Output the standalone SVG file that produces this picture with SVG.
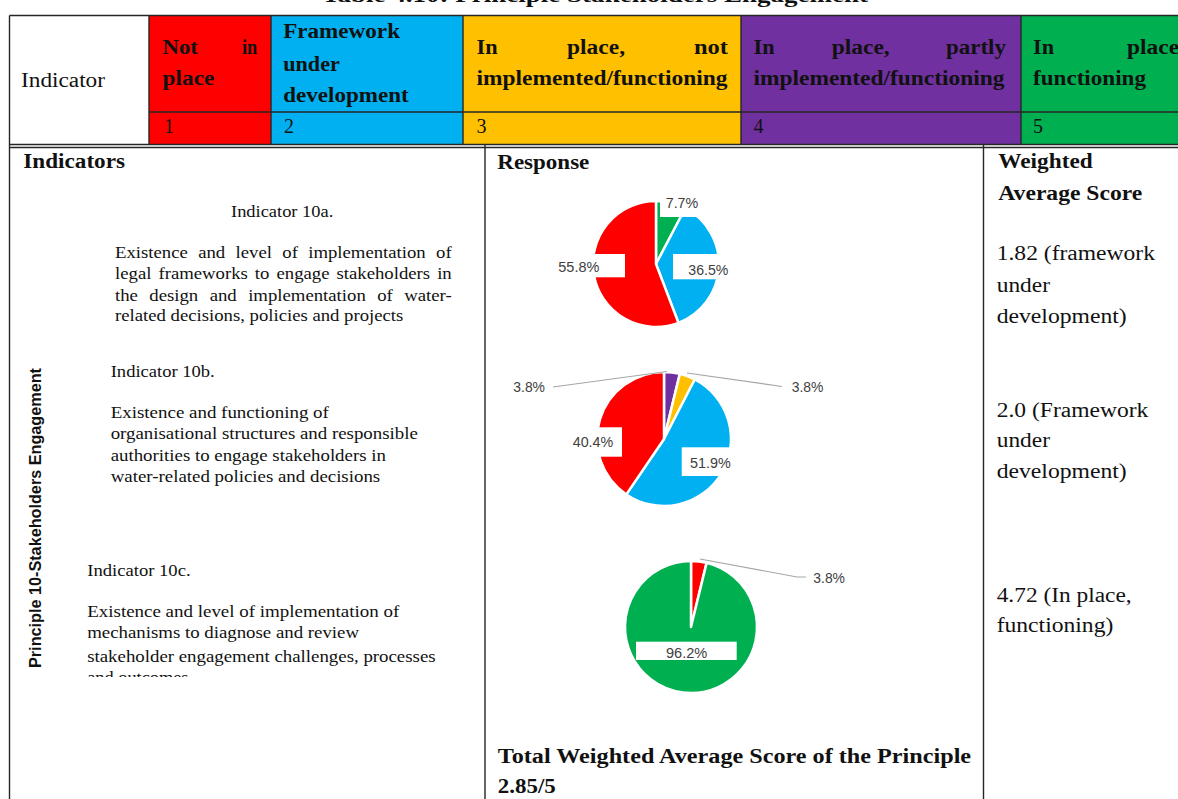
<svg xmlns="http://www.w3.org/2000/svg" width="1178" height="799" viewBox="0 0 1178 799">
<defs>
<style>
.b{font-family:"Liberation Serif","Times New Roman",serif;font-weight:bold;font-size:20px;fill:#111}
.r{font-family:"Liberation Serif","Times New Roman",serif;font-size:20px;fill:#111}
.s{font-family:"Liberation Serif","Times New Roman",serif;font-size:16px;fill:#111}
.v{font-family:"Liberation Sans",Arial,sans-serif;font-weight:bold;font-size:16px;fill:#111}
.l{font-family:"Liberation Sans",Arial,sans-serif;font-size:14px;fill:#404040}
.ln{stroke:#262626;stroke-width:1.4;fill:none}
.sl{stroke:#fff;stroke-width:2.5;stroke-linejoin:round}
.ld{stroke:#a6a6a6;stroke-width:1.2;fill:none}
.bx{fill:#fff}
</style>
<clipPath id="cutC"><rect x="0" y="560" width="480" height="117"/></clipPath>
</defs>
<rect width="1178" height="799" fill="#fff"/>

<g id="title">
<text class="b" x="322" y="1.5" textLength="546" lengthAdjust="spacingAndGlyphs">Table 4.10: Principle Stakeholders Engagement</text>
</g>

<g id="header">
<rect x="9.5" y="15.5" width="139.5" height="129" fill="#fff"/>
<rect x="149" y="15.5" width="122" height="129" fill="#ff0000"/>
<rect x="271" y="15.5" width="192" height="129" fill="#00b0f0"/>
<rect x="463" y="15.5" width="278" height="129" fill="#ffc000"/>
<rect x="741" y="15.5" width="280" height="129" fill="#7030a0"/>
<rect x="1021" y="15.5" width="160" height="129" fill="#00b050"/>
<text class="r" x="21" y="87" textLength="84" lengthAdjust="spacingAndGlyphs">Indicator</text>
<text class="b" x="162.6" y="54" textLength="35.3" lengthAdjust="spacingAndGlyphs">Not</text>
<text class="b" x="241.9" y="54" textLength="15.3" lengthAdjust="spacingAndGlyphs">in</text>
<text class="b" x="162.6" y="85" textLength="51.7" lengthAdjust="spacingAndGlyphs">place</text>
<text class="b" x="283.2" y="38.3" textLength="116.8" lengthAdjust="spacingAndGlyphs">Framework</text>
<text class="b" x="283.2" y="70.7" textLength="56.6" lengthAdjust="spacingAndGlyphs">under</text>
<text class="b" x="283.2" y="101.7" textLength="125.5" lengthAdjust="spacingAndGlyphs">development</text>
<text class="b" x="476.5" y="54" textLength="21" lengthAdjust="spacingAndGlyphs">In</text>
<text class="b" x="567" y="54" textLength="58" lengthAdjust="spacingAndGlyphs">place,</text>
<text class="b" x="694" y="54" textLength="34" lengthAdjust="spacingAndGlyphs">not</text>
<text class="b" x="476.5" y="85" textLength="251" lengthAdjust="spacingAndGlyphs">implemented/functioning</text>
<text class="b" x="753.5" y="54" textLength="21" lengthAdjust="spacingAndGlyphs">In</text>
<text class="b" x="831.7" y="54" textLength="58" lengthAdjust="spacingAndGlyphs">place,</text>
<text class="b" x="946" y="54" textLength="60" lengthAdjust="spacingAndGlyphs">partly</text>
<text class="b" x="753.5" y="85" textLength="251" lengthAdjust="spacingAndGlyphs">implemented/functioning</text>
<text class="b" x="1033" y="54" textLength="21" lengthAdjust="spacingAndGlyphs">In</text>
<text class="b" x="1127" y="54" textLength="58" lengthAdjust="spacingAndGlyphs">place,</text>
<text class="b" x="1033" y="85" textLength="113" lengthAdjust="spacingAndGlyphs">functioning</text>
<text class="r" x="164" y="133">1</text>
<text class="r" x="284" y="133">2</text>
<text class="r" x="476.5" y="133">3</text>
<text class="r" x="753.5" y="133">4</text>
<text class="r" x="1033" y="133">5</text>
</g>

<g id="grid">
<path class="ln" d="M9.5,15.5H1178 M149,112H1178 M9.5,144.5H1178 M9.5,147.5H1178 M9.5,15.5V799 M149,15.5V144.5 M271,15.5V144.5 M463,15.5V144.5 M741,15.5V144.5 M1021,15.5V144.5 M485,144.5V799 M983.5,144.5V799"/>
</g>

<g id="indicators">
<text class="b" x="23.3" y="168.3" textLength="101.7" lengthAdjust="spacingAndGlyphs">Indicators</text>
<text class="v" transform="translate(41,668) rotate(-90)" textLength="300" lengthAdjust="spacingAndGlyphs">Principle 10-Stakeholders Engagement</text>
</g>

<g id="ind10a">
<text class="s" x="231" y="216.7" textLength="102.3" lengthAdjust="spacingAndGlyphs">Indicator 10a.</text>
<text class="s" x="115" y="258.3" word-spacing="4.86" textLength="336.7" lengthAdjust="spacingAndGlyphs">Existence and level of implementation of</text>
<text class="s" x="115" y="279.3" word-spacing="2" textLength="336.7" lengthAdjust="spacingAndGlyphs">legal frameworks to engage stakeholders in</text>
<text class="s" x="115" y="300.7" word-spacing="5.74" textLength="336.7" lengthAdjust="spacingAndGlyphs">the design and implementation of water-</text>
<text class="s" x="115" y="321" textLength="288.3" lengthAdjust="spacingAndGlyphs">related decisions, policies and projects</text>
</g>

<g id="ind10b">
<text class="s" x="110.7" y="376.7" textLength="104" lengthAdjust="spacingAndGlyphs">Indicator 10b.</text>
<text class="s" x="110.7" y="418.3" textLength="218.2" lengthAdjust="spacingAndGlyphs">Existence and functioning of</text>
<text class="s" x="110.7" y="439.3" textLength="307.1" lengthAdjust="spacingAndGlyphs">organisational structures and responsible</text>
<text class="s" x="110.7" y="460.7" textLength="275.2" lengthAdjust="spacingAndGlyphs">authorities to engage stakeholders in</text>
<text class="s" x="110.7" y="482.3" textLength="269.5" lengthAdjust="spacingAndGlyphs">water-related policies and decisions</text>
</g>

<g id="ind10c">
<text class="s" x="87.2" y="576" textLength="103.4" lengthAdjust="spacingAndGlyphs">Indicator 10c.</text>
<text class="s" x="87.2" y="617.3" textLength="312.1" lengthAdjust="spacingAndGlyphs">Existence and level of implementation of</text>
<text class="s" x="87.2" y="638.3" textLength="271.8" lengthAdjust="spacingAndGlyphs">mechanisms to diagnose and review</text>
<text class="s" x="87.2" y="661.7" textLength="348.4" lengthAdjust="spacingAndGlyphs">stakeholder engagement challenges, processes</text>
<text class="s" x="87.2" y="683" textLength="101.3" lengthAdjust="spacingAndGlyphs" clip-path="url(#cutC)">and outcomes</text>
</g>

<g id="response">
<text class="b" x="497.3" y="169.3" textLength="92" lengthAdjust="spacingAndGlyphs">Response</text>
</g>

<g id="pie10a">
<path class="sl" fill="#00b050" d="M656,264 L656,201 A63,63 0 0 1 685.3,208.23 Z"/>
<path class="sl" fill="#00b0f0" d="M656,264 L685.3,208.23 A63,63 0 0 1 678.45,322.86 Z"/>
<path class="sl" fill="#ff0000" d="M656,264 L678.45,322.86 A63,63 0 1 1 656,201 Z"/>
<rect class="bx" x="660" y="190" width="42" height="27"/>
<text class="l" x="665.7" y="207.7" textLength="32.6" lengthAdjust="spacingAndGlyphs">7.7%</text>
<rect class="bx" x="557" y="254" width="68" height="23.3"/>
<text class="l" x="558.3" y="271.7" textLength="41" lengthAdjust="spacingAndGlyphs">55.8%</text>
<rect class="bx" x="673" y="254" width="57" height="25.3"/>
<text class="l" x="688.3" y="275" textLength="40" lengthAdjust="spacingAndGlyphs">36.5%</text>
</g>

<g id="pie10b">
<path class="sl" fill="#7030a0" d="M664,439 L664,372 A67,67 0 0 1 679.85,373.9 Z"/>
<path class="sl" fill="#ffc000" d="M664,439 L679.85,373.9 A67,67 0 0 1 694.79,379.5 Z"/>
<path class="sl" fill="#00b0f0" d="M664,439 L694.79,379.5 A67,67 0 1 1 626.34,494.42 Z"/>
<path class="sl" fill="#ff0000" d="M664,439 L626.34,494.42 A67,67 0 0 1 664,372 Z"/>
<text class="l" x="513.3" y="391.7" textLength="31.7" lengthAdjust="spacingAndGlyphs">3.8%</text>
<text class="l" x="791.7" y="391.7" textLength="31.7" lengthAdjust="spacingAndGlyphs">3.8%</text>
<rect class="bx" x="570" y="427.3" width="52" height="29.4"/>
<text class="l" x="572.7" y="446.7" textLength="40.6" lengthAdjust="spacingAndGlyphs">40.4%</text>
<rect class="bx" x="681.7" y="447.3" width="50" height="28.7"/>
<text class="l" x="690" y="467.7" textLength="40.7" lengthAdjust="spacingAndGlyphs">51.9%</text>
</g>

<g id="pie10c">
<path class="sl" fill="#ff0000" d="M691,627 L691,561 A66,66 0 0 1 706.61,562.87 Z"/>
<path class="sl" fill="#00b050" d="M691,627 L706.61,562.87 A66,66 0 1 1 691,561 Z"/>
<text class="l" x="813.3" y="582.7" textLength="31.7" lengthAdjust="spacingAndGlyphs">3.8%</text>
<rect class="bx" x="636" y="641.7" width="100.7" height="18.3"/>
<text class="l" x="666" y="658.3" textLength="41.3" lengthAdjust="spacingAndGlyphs">96.2%</text>
</g>

<g id="connectors">
<path class="ld" d="M553,387 L667,371.5"/>
<path class="ld" d="M687,373 L782,386.5"/>
<path class="ld" d="M700,559 L797,577 L806,577"/>
</g>

<g id="total">
<text class="b" x="497.8" y="763.3" textLength="473.3" lengthAdjust="spacingAndGlyphs">Total Weighted Average Score of the Principle</text>
<text class="b" x="497.8" y="792.7" textLength="57.9" lengthAdjust="spacingAndGlyphs">2.85/5</text>
</g>

<g id="scores">
<text class="b" x="998.3" y="168.3" textLength="94.4" lengthAdjust="spacingAndGlyphs">Weighted</text>
<text class="b" x="998.3" y="200" textLength="144" lengthAdjust="spacingAndGlyphs">Average Score</text>
<text class="r" x="996.7" y="260" textLength="158.3" lengthAdjust="spacingAndGlyphs">1.82 (framework</text>
<text class="r" x="996.7" y="291.7" textLength="53.3" lengthAdjust="spacingAndGlyphs">under</text>
<text class="r" x="996.7" y="322.7" textLength="130" lengthAdjust="spacingAndGlyphs">development)</text>
<text class="r" x="996.7" y="416.7" textLength="151.6" lengthAdjust="spacingAndGlyphs">2.0 (Framework</text>
<text class="r" x="996.7" y="447.3" textLength="53.3" lengthAdjust="spacingAndGlyphs">under</text>
<text class="r" x="996.7" y="478.3" textLength="130" lengthAdjust="spacingAndGlyphs">development)</text>
<text class="r" x="996.7" y="601.7" textLength="135" lengthAdjust="spacingAndGlyphs">4.72 (In place,</text>
<text class="r" x="996.7" y="631.7" textLength="116.6" lengthAdjust="spacingAndGlyphs">functioning)</text>
</g>
</svg>
